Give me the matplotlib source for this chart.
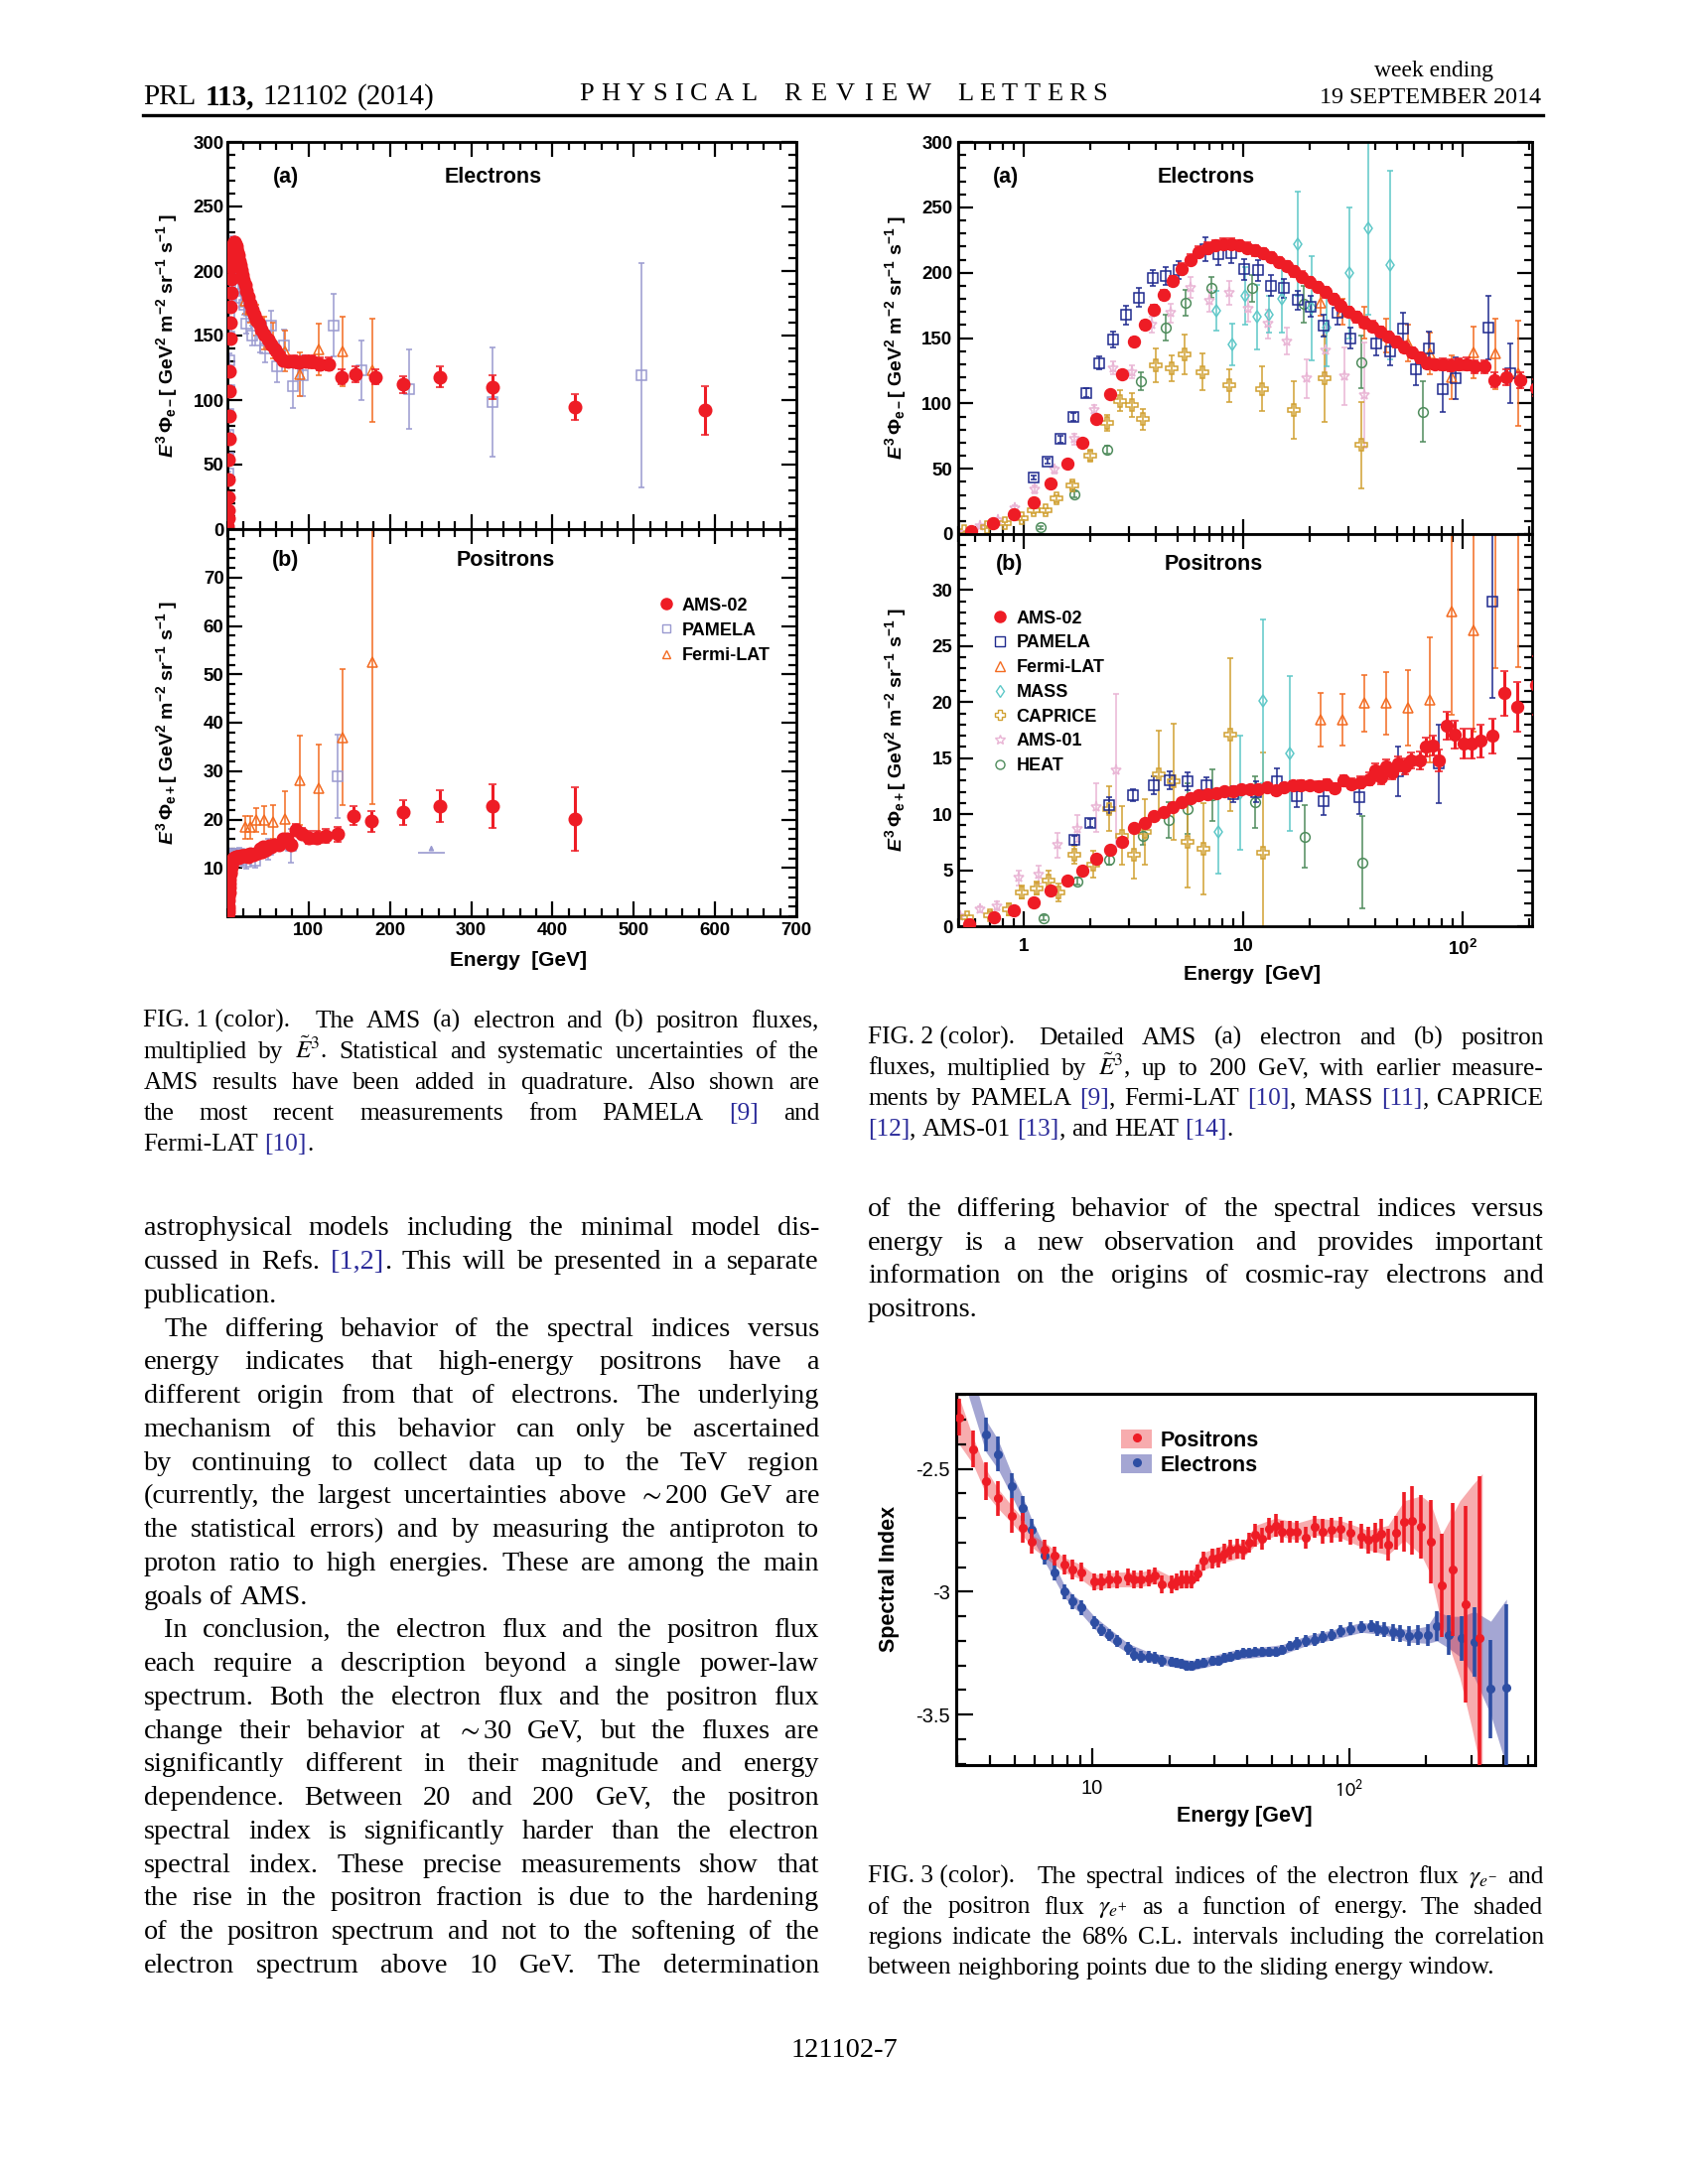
import matplotlib
matplotlib.use('Agg')
import matplotlib.pyplot as plt
from matplotlib.lines import Line2D
from matplotlib.patches import Patch
from matplotlib.legend_handler import HandlerTuple
from matplotlib.ticker import MultipleLocator, FixedLocator, NullFormatter

W, H = 1700, 2200

#AMS-02 electron flux times E^3 (E in GeV)
amsEleE = [0.57, 0.72, 0.90, 1.10, 1.32, 1.57, 1.84, 2.14, 2.46, 2.80, 3.16, 3.54, 3.90, 4.31, 4.74, 5.23, 5.71, 6.25, 6.84, 7.45,
           8.1, 8.8, 9.6, 10.4, 11.3, 12.3, 13.3, 14.5, 15.7, 17.0, 18.5, 20.0, 21.7, 23.6, 25.6, 27.8, 30.2, 32.8, 35.6, 38.7,
           42.0, 45.6, 49.5, 53.8, 58.4, 63.4, 68.9, 74.9, 81.4, 88.4, 96.0, 104.3, 113.3, 125, 140, 158, 182, 216, 261, 326, 428, 588]
amsEleF = [2, 8.6, 15, 24.5, 38.5, 54, 70, 88, 107, 122.5, 147.5, 160, 172, 183, 194, 203, 210, 216, 219, 221,
           222, 222, 221, 219, 217, 215, 212, 208, 205, 201, 197, 193, 189, 185, 180, 175, 170, 166, 162, 159,
           155, 151, 147, 143, 139, 135, 131, 130, 130, 129, 130, 130, 128, 128, 118, 120, 118, 112, 118, 110, 95, 92]
amsEleErr = [0.4, 0.5, 0.7, 0.9, 1.1, 1.4, 1.7, 2, 2.4, 2.8, 3, 3.2, 3.4, 3.6, 3.8, 4, 4, 4, 4, 4,
             4, 4, 4, 4, 4, 4, 4, 4, 4, 4, 4, 4, 4, 4, 4, 4, 4, 4, 4, 4,
             4, 4, 4, 4, 4, 4, 4, 4, 4.5, 4.5, 4.5, 5, 5, 5, 5.5, 6, 6, 6.5, 8, 9, 10, 19]

#AMS-02 positron flux times E^3
amsPosE = [0.56, 0.73, 0.90, 1.10, 1.32, 1.57, 1.84, 2.14, 2.46, 2.80, 3.16, 3.54, 3.90, 4.31, 4.74, 5.23, 5.71, 6.25, 6.84, 7.5,
           8.2, 9.0, 9.8, 10.7, 11.7, 12.8, 14.0, 15.3, 16.8, 18.3, 20.0, 21.9, 23.9, 26.1, 28.6, 31.2, 34.2, 37.3, 40.0, 42.5,
           44.5, 47.5, 50.8, 54.3, 58.0, 63.6, 68.0, 72.7, 78.0, 84.5, 91.8, 100.6, 109.5, 121, 136, 155, 177, 216, 261, 326, 428]
amsPosF = [0.15, 0.8, 1.4, 2.1, 3.2, 4.1, 5.0, 6.0, 6.8, 7.5, 8.8, 9.25, 9.8, 10.2, 10.6, 11.1, 11.4, 11.7, 11.8, 11.9,
           12.05, 12.05, 12.2, 12.25, 12.25, 12.4, 12.1, 12.4, 12.55, 12.6, 12.55, 12.5, 12.7, 12.3, 13.0, 12.7, 12.85, 13.15, 13.9, 13.3,
           14.3, 13.75, 14.5, 14.3, 14.8, 14.8, 16.0, 16.1, 14.8, 17.9, 17.1, 16.3, 16.3, 16.55, 17.0, 20.8, 19.6, 21.5, 22.8, 22.7, 20.1]
amsPosErr = [0.05, 0.06, 0.08, 0.1, 0.12, 0.14, 0.15, 0.17, 0.18, 0.2, 0.2, 0.22, 0.22, 0.24, 0.25, 0.26, 0.27, 0.28, 0.29, 0.3,
             0.3, 0.3, 0.32, 0.33, 0.34, 0.35, 0.36, 0.37, 0.38, 0.4, 0.4, 0.42, 0.44, 0.46, 0.48, 0.5, 0.52, 0.55, 0.6, 0.6,
             0.62, 0.65, 0.68, 0.7, 0.72, 0.76, 0.82, 0.88, 0.95, 1.2, 1.2, 1.3, 1.35, 1.45, 1.55, 2.0, 2.2, 2.6, 3.3, 4.5, 6.5]

#PAMELA
pamEleE = [1.10, 1.28, 1.46, 1.68, 1.92, 2.20, 2.54, 2.91, 3.35, 3.85, 4.41, 5.06, 6.7, 7.67, 8.8, 10.1, 11.6, 13.3, 15.3, 17.6,
           20.3, 23.3, 26.7, 30.7, 40.3, 46.4, 53.3, 61, 70, 80.7, 92.8, 131, 165, 224, 326, 509]
pamEleF = [43, 55.7, 72.7, 89.6, 108, 131, 149, 167.6, 181, 196, 197.5, 202, 218, 214, 215, 202.5, 202, 190, 188, 179,
           174, 159.5, 169.6, 150, 146, 140, 157.5, 126, 142, 110.6, 119, 158, 123, 108.5, 98.5, 119]
pamEleErr = [1.5, 2, 2.5, 3, 3.5, 5, 6, 7, 7, 6, 7, 7, 9, 8, 8, 8, 8, 8, 7, 7,
             8, 8, 9, 8, 9, 11, 12, 12, 13, 17, 16, 24, 23, 31, 42, 87]
pamPosE = [1.69, 2.0, 2.45, 3.13, 3.9, 4.63, 5.54, 6.8, 9.0, 11.4, 14.2, 17.5, 23.3, 33.8, 50.6, 78, 136]
pamPosF = [7.7, 9.2, 10.8, 11.7, 12.6, 13.0, 12.95, 12.55, 11.8, 12.0, 12.9, 11.6, 11.2, 11.5, 13.8, 14.5, 29.0]
pamPosErr = [0.4, 0.35, 0.7, 0.5, 0.8, 0.8, 0.8, 0.7, 0.7, 0.9, 1.2, 1.0, 1.3, 1.5, 2.2, 3.5, 8.6]
pamPosLimE = [251]
pamPosLimF = [13.1]
pamPosLimHalf = [17]

#Fermi-LAT
fermiE = [22.4, 28.2, 35.5, 44.7, 56.3, 70.9, 89.2, 112.3, 141.4, 178]
fermiEleF = [177, 170, 162, 152, 146, 138, 120, 139, 138, 123]
fermiEleErr = [10, 10, 12, 13, 14, 16, 17, 20, 27, 40]
fermiPosF = [18.4, 18.4, 19.9, 19.9, 19.5, 20.2, 28.1, 26.4, 37, 52.6]
fermiPosErr = [2.4, 2.3, 2.5, 2.8, 3.4, 5.6, 9.2, 9.0, 14, 29.5]

#MASS
massEleE = [7.5, 8.86, 10.2, 11.5, 13.0, 14.9, 17.7, 20.5, 23.9, 30.5, 37.2, 46.6]
massEleF = [171, 145, 182, 166, 168, 180, 222, 173, 158, 200, 234, 206]
massEleErr = [15, 16, 22, 25, 14, 26, 40, 40, 30, 50, 66, 72]
massPosE = [7.65, 9.65, 12.3, 16.2]
massPosF = [8.4, 11.9, 20.1, 15.4]
massPosErr = [3.7, 5.1, 7.3, 6.9]

#CAPRICE
capEleE = [0.53, 0.68, 0.82, 0.97, 1.11, 1.25, 1.40, 1.65, 2.0, 2.38, 2.74, 3.09, 3.47, 4.0, 4.7, 5.4, 6.47, 8.57, 12.1, 17.0, 23.5, 34.3]
capEleF = [2, 5, 8, 12, 18, 18, 27, 37.5, 60, 85, 102, 99, 88, 129, 127, 137.5, 124, 113.7, 111, 94.7, 119, 68]
capEleErr = [0.5, 0.8, 1, 1.5, 2, 2, 2.5, 3, 4, 6, 8, 9, 8, 13, 10, 15, 14, 12.5, 17, 22, 33, 33]
capPosE = [0.55, 0.7, 0.85, 0.97, 1.14, 1.29, 1.44, 1.7, 2.06, 2.44, 2.8, 3.17, 3.56, 4.1, 4.8, 5.55, 6.6, 8.7, 12.25]
capPosF = [0.8, 1.0, 1.5, 3.05, 3.4, 4.1, 3.05, 6.35, 5.5, 10.5, 8.1, 6.35, 8.4, 13.6, 12.9, 7.5, 6.9, 17.1, 6.55]
capPosErr = [0.2, 0.3, 0.5, 0.6, 0.6, 0.9, 0.8, 0.8, 1.2, 2.0, 2.6, 2.1, 2.9, 3.9, 5.2, 4.0, 4.1, 6.8, 9.0]

#AMS-01
ams01EleE = [0.5, 0.63, 0.76, 0.91, 1.12, 1.37, 1.69, 2.08, 2.54, 3.11, 3.8, 4.67, 5.75, 7.0, 8.6, 10.5, 12.9, 15.8, 19.4, 23.7, 29.0, 35.6]
ams01EleF = [1.5, 6, 11, 20, 34, 49, 72.7, 95, 127, 124, 160, 169, 188.6, 178.5, 184.8, 172.7, 161, 147.6, 119, 140.5, 121, 106.3]
ams01EleErr = [0.5, 1, 1.5, 2, 3, 3, 4, 4, 5, 5, 6, 7, 8, 8, 9, 10, 11, 10, 15, 20, 22, 40]
ams01PosE = [0.51, 0.63, 0.75, 0.94, 1.16, 1.42, 1.74, 2.13, 2.62]
ams01PosF = [0.9, 1.5, 1.8, 4.3, 4.6, 7.25, 8.7, 10.6, 13.9]
ams01PosErr = [0.2, 0.3, 0.4, 0.7, 0.8, 1.1, 1.2, 2.2, 6.8]

#HEAT
heatEleE = [1.19, 1.70, 2.38, 3.41, 4.44, 5.42, 7.17, 11.0, 18.8, 34.5, 66]
heatEleF = [5, 30.4, 64.5, 117, 158, 177, 188.6, 188, 176, 131.6, 93.7]
heatEleErr = [1, 2, 3, 7, 10, 10, 8, 10, 14, 20, 23]
heatPosE = [1.23, 1.75, 2.44, 3.49, 4.55, 5.55, 7.2, 11.3, 19.1, 34.9]
heatPosF = [0.75, 4.0, 5.9, 8.1, 9.5, 10.5, 11.7, 11.1, 8.0, 5.7]
heatPosErr = [0.2, 0.3, 0.4, 0.8, 1.6, 2.3, 2.3, 2.3, 2.8, 4.1]

#Spectral indices (fig 3)
idxPosE = [3.05, 3.44, 3.86, 4.3, 4.87, 5.36, 5.85, 6.56, 7.15, 7.78, 8.39, 9.09, 10.2, 10.9, 11.7, 12.5, 13.8, 14.6, 15.5, 16.6,
           17.6, 18.7, 20.5, 21.4, 22.4, 23.4, 24.4, 25.7, 27.2, 29.5, 31.1, 32.6, 34.6, 36.6, 38.8, 40.9, 43.3, 45.9, 48.7, 51.9,
           55.0, 58.9, 62.9, 67.9, 73.3, 79.1, 85.9, 92.6, 101.7, 111.9, 118.5, 126, 134, 142, 152, 164, 176, 191, 208, 229, 254, 285, 321]
idxPosG = [-2.29, -2.42, -2.55, -2.62, -2.69, -2.74, -2.795, -2.83, -2.855, -2.89, -2.91, -2.92, -2.96, -2.96, -2.95, -2.95, -2.94, -2.95, -2.95, -2.945,
           -2.935, -2.97, -2.97, -2.96, -2.95, -2.95, -2.95, -2.925, -2.875, -2.865, -2.86, -2.845, -2.83, -2.825, -2.83, -2.80, -2.77, -2.785, -2.745, -2.73,
           -2.755, -2.755, -2.755, -2.78, -2.735, -2.755, -2.75, -2.745, -2.76, -2.775, -2.79, -2.78, -2.765, -2.81, -2.76, -2.715, -2.71, -2.735, -2.795, -2.975, -2.91, -3.05, -3.19]
idxPosErr = [0.075, 0.075, 0.075, 0.07, 0.07, 0.06, 0.05, 0.04, 0.04, 0.04, 0.04, 0.04, 0.035, 0.035, 0.035, 0.035, 0.035, 0.035, 0.035, 0.035,
             0.035, 0.035, 0.035, 0.035, 0.035, 0.035, 0.035, 0.035, 0.04, 0.04, 0.04, 0.04, 0.04, 0.04, 0.04, 0.04, 0.045, 0.045, 0.045, 0.045,
             0.045, 0.045, 0.045, 0.045, 0.045, 0.05, 0.05, 0.05, 0.05, 0.05, 0.055, 0.06, 0.06, 0.065, 0.07, 0.12, 0.14, 0.13, 0.17, 0.21, 0.27, 0.4, 0.66]
idxEleE = [3.86, 4.3, 4.87, 5.36, 5.85, 6.56, 7.15, 7.78, 8.39, 9.09, 10.2, 10.9, 11.7, 12.5, 13.8, 14.6, 15.5, 16.6, 17.6, 18.7,
           20.5, 21.4, 22.4, 23.4, 24.4, 25.7, 27.2, 29.5, 31.1, 32.6, 34.6, 36.6, 38.8, 40.9, 43.3, 45.9, 48.7, 51.9, 55.0, 58.9,
           62.9, 67.9, 73.3, 79.1, 85.9, 92.6, 101.7, 111.9, 122, 129, 137, 148, 158, 171, 186, 202, 220, 245, 275, 308, 356, 410]
idxEleG = [-2.36, -2.44, -2.57, -2.66, -2.75, -2.855, -2.92, -3.0, -3.04, -3.065, -3.125, -3.155, -3.175, -3.2, -3.23, -3.255, -3.265, -3.265, -3.27, -3.28,
           -3.285, -3.29, -3.295, -3.30, -3.30, -3.295, -3.29, -3.28, -3.28, -3.27, -3.265, -3.255, -3.25, -3.25, -3.245, -3.245, -3.245, -3.245, -3.235, -3.22,
           -3.21, -3.20, -3.195, -3.185, -3.175, -3.16, -3.15, -3.145, -3.14, -3.15, -3.155, -3.165, -3.17, -3.18, -3.175, -3.175, -3.14, -3.175, -3.19, -3.205, -3.395, -3.39]
idxEleErr = [0.07, 0.07, 0.05, 0.05, 0.045, 0.035, 0.035, 0.03, 0.03, 0.03, 0.025, 0.025, 0.025, 0.025, 0.025, 0.025, 0.025, 0.025, 0.025, 0.025,
             0.02, 0.02, 0.02, 0.02, 0.02, 0.02, 0.02, 0.02, 0.02, 0.02, 0.02, 0.02, 0.02, 0.02, 0.02, 0.02, 0.02, 0.02, 0.02, 0.02,
             0.025, 0.025, 0.025, 0.025, 0.025, 0.025, 0.025, 0.025, 0.025, 0.03, 0.03, 0.035, 0.035, 0.04, 0.04, 0.045, 0.06, 0.08, 0.09, 0.14, 0.2, 0.34]
posBandE = [2.95, 3.44, 3.86, 4.3, 4.87, 5.36, 5.85, 6.56, 7.78, 9.09, 10.2, 12.5, 15.5, 17.6, 20.5, 24.4, 27.2, 32.6, 38.8, 43.3,
            51.9, 62.9, 73.3, 92.6, 118.5, 142, 164, 191, 208, 229, 270, 300, 330]
posBandLo = [-2.38, -2.48, -2.60, -2.66, -2.72, -2.77, -2.82, -2.86, -2.92, -2.95, -2.99, -2.98, -2.98, -2.965, -2.99, -2.98, -2.91, -2.88, -2.86, -2.81,
             -2.77, -2.79, -2.77, -2.78, -2.83, -2.85, -2.79, -2.85, -2.93, -3.13, -3.35, -3.55, -3.75]
posBandHi = [-2.17, -2.37, -2.50, -2.58, -2.65, -2.70, -2.77, -2.80, -2.86, -2.89, -2.93, -2.92, -2.92, -2.905, -2.94, -2.92, -2.84, -2.81, -2.80, -2.73,
             -2.70, -2.72, -2.70, -2.71, -2.75, -2.73, -2.63, -2.61, -2.64, -2.77, -2.63, -2.57, -2.52]
eleBandE = [3.3, 3.86, 4.3, 4.87, 5.36, 5.85, 6.56, 7.15, 7.78, 8.39, 9.09, 10.2, 11.7, 13.8, 16.6, 20.5, 24.4, 29.5, 36.6, 45.9,
            55.0, 67.9, 85.9, 111.9, 137, 171, 202, 220, 245, 275, 308, 356, 410]
eleBandLo = [-2.20, -2.43, -2.50, -2.61, -2.70, -2.78, -2.88, -2.95, -3.02, -3.06, -3.09, -3.15, -3.20, -3.25, -3.285, -3.305, -3.32, -3.30, -3.275, -3.265,
             -3.255, -3.22, -3.195, -3.165, -3.175, -3.205, -3.21, -3.20, -3.23, -3.27, -3.35, -3.50, -3.71]
eleBandHi = [-2.05, -2.30, -2.38, -2.52, -2.61, -2.71, -2.82, -2.89, -2.97, -3.01, -3.04, -3.10, -3.15, -3.21, -3.245, -3.265, -3.28, -3.26, -3.235, -3.225,
             -3.215, -3.18, -3.155, -3.125, -3.135, -3.155, -3.14, -3.08, -3.10, -3.10, -3.08, -3.12, -3.03]

#Tick values
fig1TopYTicks = [0, 50, 100, 150, 200, 250, 300]
fig1BotYTicks = [10, 20, 30, 40, 50, 60, 70]
fig1XTicks = [100, 200, 300, 400, 500, 600, 700]
fig2TopYTicks = [0, 50, 100, 150, 200, 250, 300]
fig2BotYTicks = [0, 5, 10, 15, 20, 25, 30]
fig2XTicks = [1, 10, 100]
fig2XLabels = ['1', '10', r'$10^{2}$']
fig3XTicks = [10, 100]
fig3XLabels = ['10', r'$10^{2}$']
fig3YTicks = [-3.5, -3, -2.5]
fig3YLabels = ['-3.5', '-3', '-2.5']

#Page text (| marks a blue reference, ¦ a fixed space)
headerParts = [('PRL', 'normal'), ('113,', 'bold'), ('121102', 'normal'), ('(2014)', 'normal')]
journalWords = [('PHYSICAL', 583, 762), ('REVIEW', 789, 938), ('LETTERS', 964, 1115)]
caption1 = [("FIG.¦1¦(color).¦¦ The AMS (a) electron and (b) positron fluxes,", True),
            ("multiplied by $\\tilde{E}^{3}$. Statistical and systematic uncertainties of the", True),
            ("AMS results have been added in quadrature. Also shown are", True),
            ("the most recent measurements from PAMELA |[9]| and", True),
            ("Fermi-LAT |[10]|.", False)]
caption2 = [("FIG.¦2¦(color).¦ Detailed AMS (a) electron and (b) positron", True),
            ("fluxes, multiplied by $\\tilde{E}^{3}$, up to 200 GeV, with earlier measure-", True),
            ("ments by PAMELA |[9]|, Fermi-LAT |[10]|, MASS |[11]|, CAPRICE", True),
            ("|[12]|, AMS-01 |[13]|, and HEAT |[14]|.", False)]
caption3 = [("FIG.¦3¦(color).¦¦ The spectral indices of the electron flux $\\gamma_{e^{-}}$ and", True),
            ("of the positron flux $\\gamma_{e^{+}}$ as a function of energy. The shaded", True),
            ("regions indicate the 68% C.L. intervals including the correlation", True),
            ("between neighboring points due to the sliding energy window.", False)]
bodyLeft = [("astrophysical models including the minimal model dis-", True, 0),
            ("cussed in Refs. |[1,2]|. This will be presented in a separate", True, 0),
            ("publication.", False, 0),
            ("The differing behavior of the spectral indices versus", True, 1),
            ("energy indicates that high-energy positrons have a", True, 0),
            ("different origin from that of electrons. The underlying", True, 0),
            ("mechanism of this behavior can only be ascertained", True, 0),
            ("by continuing to collect data up to the TeV region", True, 0),
            ("(currently, the largest uncertainties above $\\sim$200 GeV are", True, 0),
            ("the statistical errors) and by measuring the antiproton to", True, 0),
            ("proton ratio to high energies. These are among the main", True, 0),
            ("goals of AMS.", False, 0),
            ("In conclusion, the electron flux and the positron flux", True, 1),
            ("each require a description beyond a single power-law", True, 0),
            ("spectrum. Both the electron flux and the positron flux", True, 0),
            ("change their behavior at $\\sim$30 GeV, but the fluxes are", True, 0),
            ("significantly different in their magnitude and energy", True, 0),
            ("dependence. Between 20 and 200 GeV, the positron", True, 0),
            ("spectral index is significantly harder than the electron", True, 0),
            ("spectral index. These precise measurements show that", True, 0),
            ("the rise in the positron fraction is due to the hardening", True, 0),
            ("of the positron spectrum and not to the softening of the", True, 0),
            ("electron spectrum above 10 GeV. The determination", True, 0)]
bodyRight = [("of the differing behavior of the spectral indices versus", True, 0),
             ("energy is a new observation and provides important", True, 0),
             ("information on the origins of cosmic-ray electrons and", True, 0),
             ("positrons.", False, 0)]

red = '#ee1c25'
lav = '#9a9ad0'
navy = '#1f2a8e'
orange = '#f36b21'
cyan = '#5ec8c8'
gold = '#d1a031'
pink = '#e9b5d5'
green = '#4f8c5c'
linkBlue = '#2b2b9a'
blueDot = '#2e4ea3'

plt.rcParams['font.family'] = ['Liberation Sans', 'DejaVu Sans']
plt.rcParams['mathtext.fontset'] = 'custom'
plt.rcParams['mathtext.rm'] = 'Liberation Sans:bold'
plt.rcParams['mathtext.it'] = 'Liberation Sans:italic:bold'
plt.rcParams['mathtext.bf'] = 'Liberation Sans:bold'
plt.rcParams['mathtext.sf'] = 'Liberation Sans:bold'

fig = plt.figure(figsize=(W / 100, H / 100), dpi=100)
renderer = fig.canvas.get_renderer()


def addAxes(left, top, right, bottom):
    return fig.add_axes([left / W, 1 - bottom / H, (right - left) / W, (bottom - top) / H])


def figText(x, y, s, **kw):
    return fig.text(x / W, 1 - y / H, s, **kw)


#One line of justified page text
def setLine(line, x0, x1, y, size, justify, indent):
    em = size * 100 / 72
    pieces = []
    for word in line.split():
        extra = 0
        while word.endswith('¦'):
            word = word[:-1]
            extra += 0.25 * em
        segs = []
        for k, part in enumerate(word.replace('¦', ' ').split('|')):
            if part == '':
                continue
            t = figText(0, y, part, fontsize=size, family='Liberation Serif', va='baseline',
                        color=linkBlue if k % 2 else 'black', math_fontfamily='stix')
            segs.append((t, t.get_window_extent(renderer).width))
        pieces.append((segs, extra))
    total = sum(w for segs, e in pieces for t, w in segs) + sum(e for s, e in pieces)
    gap = 0.25 * em
    if justify and len(pieces) > 1:
        gap = (x1 - x0 - indent - total) / (len(pieces) - 1)
    x = x0 + indent
    for segs, extra in pieces:
        for t, w in segs:
            t.set_x(x / W)
            x += w
        x += extra + gap


def pageBlock(lines, x0, x1, y0, step, size):
    for i, line in enumerate(lines):
        setLine(line[0], x0, x1, y0 + i * step, size, line[1], 21 * (line[2] if len(line) > 2 else 0))


def styleFrame(ax):
    for sp in ax.spines.values():
        sp.set_linewidth(2)
    ax.tick_params(which='both', direction='in', top=True, right=True, width=1.6, pad=2.5)
    ax.tick_params(which='major', length=11)
    ax.tick_params(which='minor', length=6)


def plotSet(ax, x, y, err, marker, color, ms, filled=False, lw=1.1, cap=2.5, z=2):
    ax.errorbar(x, y, yerr=err, fmt=marker, color=color, ms=ms, mfc=color if filled else 'none', mec=color,
                mew=1.1, elinewidth=lw, capsize=cap, capthick=lw, zorder=z)


tickFont = dict(fontsize=13.5, fontweight='bold')
yLabelEle = r'$E^{3}\,\Phi_{\mathrm{e-}}$[ GeV$^{2}$ m$^{-2}$ sr$^{-1}$ s$^{-1}$ ]'
yLabelPos = r'$E^{3}\,\Phi_{\mathrm{e+}}$[ GeV$^{2}$ m$^{-2}$ sr$^{-1}$ s$^{-1}$ ]'

#FIGURE 1 - linear energy scale
ax1a = addAxes(229, 143, 802, 533)
ax1b = addAxes(229, 533, 802, 923)
for ax in (ax1a, ax1b):
    styleFrame(ax)
    ax.set_xlim(0, 700)
    ax.xaxis.set_minor_locator(MultipleLocator(20))
plotSet(ax1a, pamEleE, pamEleF, pamEleErr, 's', lav, 6.5)
plotSet(ax1a, fermiE, fermiEleF, fermiEleErr, '^', orange, 6.5)
plotSet(ax1a, amsEleE, amsEleF, amsEleErr, 'o', red, 9, filled=True, lw=2.2, cap=3, z=5)
ax1a.set_ylim(0, 300)
ax1a.set_yticks(fig1TopYTicks, [str(v) for v in fig1TopYTicks], **tickFont)
ax1a.yaxis.set_minor_locator(MultipleLocator(10))
ax1a.set_xticks(fig1XTicks)
ax1a.tick_params(labelbottom=False)
ax1a.text(0.103, 0.91, '(a)', transform=ax1a.transAxes, ha='center', va='center', fontsize=15.5, fontweight='bold')
ax1a.text(0.467, 0.91, 'Electrons', transform=ax1a.transAxes, ha='center', va='center', fontsize=15.5, fontweight='bold')

plotSet(ax1b, pamPosE, pamPosF, pamPosErr, 's', lav, 6.5)
ax1b.errorbar(pamPosLimE, pamPosLimF, xerr=pamPosLimHalf, fmt='none', ecolor=lav, elinewidth=1.2, capsize=0)
ax1b.annotate('', xy=(pamPosLimE[0], pamPosLimF[0] + 2.2), xytext=(pamPosLimE[0], pamPosLimF[0]),
              arrowprops=dict(arrowstyle='-|>', color=lav, lw=1.1, mutation_scale=7))
plotSet(ax1b, fermiE, fermiPosF, fermiPosErr, '^', orange, 6.5)
plotSet(ax1b, amsPosE, amsPosF, amsPosErr, 'o', red, 9, filled=True, lw=2.2, cap=3, z=5)
ax1b.set_ylim(0, 80)
ax1b.set_yticks(fig1BotYTicks, [str(v) for v in fig1BotYTicks], **tickFont)
ax1b.yaxis.set_minor_locator(MultipleLocator(2))
ax1b.set_xticks(fig1XTicks, [str(v) for v in fig1XTicks], **tickFont)
ax1b.tick_params(axis='x', pad=4)
ax1b.text(0.103, 0.92, '(b)', transform=ax1b.transAxes, ha='center', va='center', fontsize=15.5, fontweight='bold')
ax1b.text(0.489, 0.92, 'Positrons', transform=ax1b.transAxes, ha='center', va='center', fontsize=15.5, fontweight='bold')
leg1 = [Line2D([], [], marker='o', color=red, ls='none', ms=8),
        Line2D([], [], marker='s', color=lav, mfc='none', ls='none', ms=6),
        Line2D([], [], marker='^', color=orange, mfc='none', ls='none', ms=6)]
ax1b.legend(leg1, ['AMS-02', 'PAMELA', 'Fermi-LAT'], loc='upper left', bbox_to_anchor=(0.758, 0.824), frameon=False,
            handlelength=0.8, handletextpad=0.5, labelspacing=0.45, borderaxespad=0, borderpad=0,
            prop=dict(weight='bold', size=13))
figText(168, 338, yLabelEle, rotation=90, ha='center', va='center', fontsize=14, fontweight='bold', math_fontfamily='custom')
figText(168, 728, yLabelPos, rotation=90, ha='center', va='center', fontsize=14, fontweight='bold', math_fontfamily='custom')
figText(522, 968, 'Energy  [GeV]', ha='center', va='center', fontsize=15, fontweight='bold')

#FIGURE 2 - log energy scale
ax2a = addAxes(965, 143, 1543, 538)
ax2b = addAxes(965, 538, 1543, 933)
for ax in (ax2a, ax2b):
    styleFrame(ax)
    ax.set_xscale('log')
    ax.set_xlim(0.5, 207)
    ax.xaxis.set_major_locator(FixedLocator(fig2XTicks))
    ax.xaxis.set_minor_locator(FixedLocator([m * d for d in (0.1, 1, 10, 100) for m in range(2, 10)]))
    ax.xaxis.set_minor_formatter(NullFormatter())
    ax.tick_params(axis='y', pad=4)
plotSet(ax2a, heatEleE, heatEleF, heatEleErr, 'o', green, 7)
plotSet(ax2a, ams01EleE, ams01EleF, ams01EleErr, '*', pink, 8)
plotSet(ax2a, capEleE, capEleF, capEleErr, 'P', gold, 8)
plotSet(ax2a, massEleE, massEleF, massEleErr, 'd', cyan, 6.5)
plotSet(ax2a, fermiE, fermiEleF, fermiEleErr, '^', orange, 7)
plotSet(ax2a, pamEleE, pamEleF, pamEleErr, 's', navy, 7)
plotSet(ax2a, amsEleE, amsEleF, amsEleErr, 'o', red, 8.5, filled=True, lw=2.2, cap=3, z=5)
ax2a.set_ylim(0, 300)
ax2a.set_yticks(fig2TopYTicks, [str(v) for v in fig2TopYTicks], **tickFont)
ax2a.yaxis.set_minor_locator(MultipleLocator(10))
ax2a.tick_params(labelbottom=False)
ax2a.text(0.083, 0.911, '(a)', transform=ax2a.transAxes, ha='center', va='center', fontsize=15.5, fontweight='bold')
ax2a.text(0.432, 0.911, 'Electrons', transform=ax2a.transAxes, ha='center', va='center', fontsize=15.5, fontweight='bold')

plotSet(ax2b, heatPosE, heatPosF, heatPosErr, 'o', green, 7)
plotSet(ax2b, ams01PosE, ams01PosF, ams01PosErr, '*', pink, 8)
plotSet(ax2b, capPosE, capPosF, capPosErr, 'P', gold, 8)
plotSet(ax2b, massPosE, massPosF, massPosErr, 'd', cyan, 6.5)
plotSet(ax2b, fermiE, fermiPosF, fermiPosErr, '^', orange, 7)
plotSet(ax2b, pamPosE, pamPosF, pamPosErr, 's', navy, 7)
plotSet(ax2b, amsPosE, amsPosF, amsPosErr, 'o', red, 8.5, filled=True, lw=2.2, cap=3, z=5)
ax2b.set_ylim(0, 35)
ax2b.set_yticks(fig2BotYTicks, [str(v) for v in fig2BotYTicks], **tickFont)
ax2b.yaxis.set_minor_locator(MultipleLocator(1))
ax2b.set_xticks(fig2XTicks, fig2XLabels, math_fontfamily='custom', **tickFont)
ax2b.tick_params(axis='x', pad=9)
ax2b.text(0.09, 0.924, '(b)', transform=ax2b.transAxes, ha='center', va='center', fontsize=15.5, fontweight='bold')
ax2b.text(0.445, 0.924, 'Positrons', transform=ax2b.transAxes, ha='center', va='center', fontsize=15.5, fontweight='bold')
leg2 = [Line2D([], [], marker='o', color=red, ls='none', ms=8),
        Line2D([], [], marker='s', color=navy, mfc='none', ls='none', ms=6.5),
        Line2D([], [], marker='^', color=orange, mfc='none', ls='none', ms=6.5),
        Line2D([], [], marker='d', color=cyan, mfc='none', ls='none', ms=6),
        Line2D([], [], marker='P', color=gold, mfc='none', ls='none', ms=7),
        Line2D([], [], marker='*', color=pink, mfc='none', ls='none', ms=7.5),
        Line2D([], [], marker='o', color=green, mfc='none', ls='none', ms=6.5)]
ax2b.legend(leg2, ['AMS-02', 'PAMELA', 'Fermi-LAT', 'MASS', 'CAPRICE', 'AMS-01', 'HEAT'], loc='upper left',
            bbox_to_anchor=(0.061, 0.806), frameon=False, handlelength=0.8, handletextpad=0.5, labelspacing=0.43,
            borderaxespad=0, borderpad=0, prop=dict(weight='bold', size=13))
figText(902, 340, yLabelEle, rotation=90, ha='center', va='center', fontsize=14, fontweight='bold', math_fontfamily='custom')
figText(902, 735, yLabelPos, rotation=90, ha='center', va='center', fontsize=14, fontweight='bold', math_fontfamily='custom')
figText(1261, 982, 'Energy  [GeV]', ha='center', va='center', fontsize=15, fontweight='bold')

#FIGURE 3 - spectral indices
ax3 = addAxes(962.5, 1404, 1546, 1778)
for sp in ax3.spines.values():
    sp.set_linewidth(2.2)
ax3.set_xscale('log')
ax3.set_xlim(2.95, 530)
ax3.set_ylim(-3.705, -2.195)
ax3.fill_between(eleBandE, eleBandLo, eleBandHi, color='#4a4fa8', alpha=0.5, lw=0, zorder=1)
ax3.fill_between(posBandE, posBandLo, posBandHi, color='#ee3a40', alpha=0.42, lw=0, zorder=1)
ax3.errorbar(idxEleE, idxEleG, yerr=idxEleErr, fmt='o', color=blueDot, ms=5.5, elinewidth=2.6, capsize=0, zorder=3)
ax3.errorbar(idxPosE, idxPosG, yerr=idxPosErr, fmt='o', color=red, ms=5.5, elinewidth=2.6, capsize=0, zorder=4)
ax3.tick_params(which='both', direction='in', top=False, right=False, width=1.6)
ax3.tick_params(which='major', length=12)
ax3.tick_params(which='minor', length=7)
ax3.set_xticks(fig3XTicks, fig3XLabels, fontsize=14.5, math_fontfamily='stixsans')
ax3.xaxis.set_minor_locator(FixedLocator([m * d for d in (1, 10, 100) for m in range(2, 10)]))
ax3.xaxis.set_minor_formatter(NullFormatter())
ax3.tick_params(axis='x', pad=10)
ax3.set_yticks(fig3YTicks, fig3YLabels, fontsize=14.5)
ax3.yaxis.set_minor_locator(MultipleLocator(0.1))
ax3.tick_params(axis='y', pad=4)
leg3 = [(Patch(facecolor='#ee3a40', alpha=0.42, edgecolor='none'), Line2D([], [], marker='o', color=red, ls='none', ms=5.5)),
        (Patch(facecolor='#4a4fa8', alpha=0.5, edgecolor='none'), Line2D([], [], marker='o', color=blueDot, ls='none', ms=5.5))]
ax3.legend(leg3, ['Positrons', 'Electrons'], handler_map={tuple: HandlerTuple(ndivide=1, pad=0)}, loc='upper left',
           bbox_to_anchor=(0.286, 0.905), frameon=False, handlelength=1.44, handleheight=1.0, handletextpad=0.39,
           labelspacing=0.14, borderaxespad=0, borderpad=0, prop=dict(weight='bold', size=15.5))
figText(895, 1590, 'Spectral Index', rotation=90, ha='center', va='center', fontsize=15.5, fontweight='bold')
figText(1253, 1829, 'Energy [GeV]', ha='center', va='center', fontsize=15.5, fontweight='bold')

#PAGE HEADER
headX = 144
for s, weight in headerParts:
    t = figText(headX, 105, s, family='Liberation Serif', fontsize=21, fontweight=weight, va='baseline')
    headX += t.get_window_extent(renderer).width + 9
for word, xa, xb in journalWords:
    chars = [figText(0, 101, c, family='Liberation Serif', fontsize=19, va='baseline') for c in word]
    widths = [c.get_window_extent(renderer).width for c in chars]
    track = (xb - xa - sum(widths)) / (len(chars) - 1)
    x = xa
    for c, w in zip(chars, widths):
        c.set_x(x / W)
        x += w + track
figText(1504, 77, 'week ending', family='Liberation Serif', fontsize=17, ha='right', va='baseline')
figText(1552, 104, '19 SEPTEMBER 2014', family='Liberation Serif', fontsize=17.3, ha='right', va='baseline')
fig.add_artist(Line2D([144 / W, 1554 / W], [1 - 116 / H, 1 - 116 / H], color='black', lw=2.4))

#CAPTIONS AND BODY TEXT
pageBlock(caption1, 144.5, 825, 1035, 31, 18.3)
pageBlock(caption2, 874, 1554.5, 1052, 30.7, 18.3)
pageBlock(caption3, 874, 1554.5, 1897, 30.5, 18.3)
pageBlock(bodyLeft, 144.5, 825, 1244.5, 33.74, 20.3)
pageBlock(bodyRight, 874, 1554.5, 1225, 33.7, 20.3)
figText(850, 2072, '121102-7', family='Liberation Serif', fontsize=20.5, ha='center', va='baseline')

fig.savefig('out.png', dpi=100)
